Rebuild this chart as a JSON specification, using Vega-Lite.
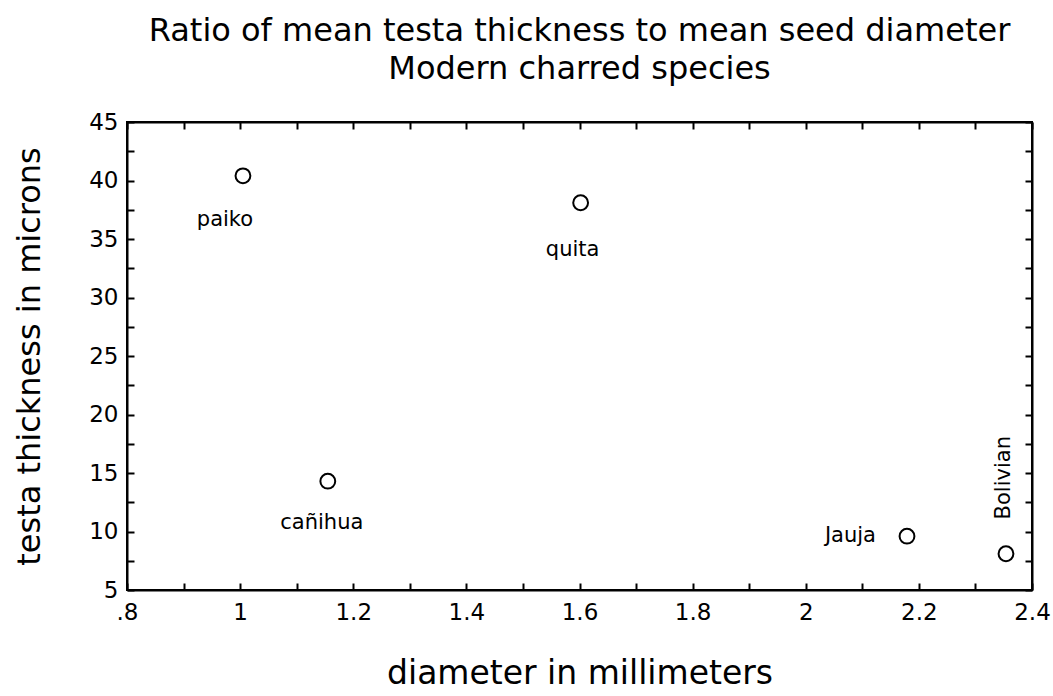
{
  "$schema": "https://vega.github.io/schema/vega-lite/v6.json",
  "width": 905,
  "height": 468,
  "autosize": {"type": "none"},
  "padding": {"left": 127, "top": 122, "right": 21, "bottom": 106},
  "background": "white",
  "config": {
    "font": "DejaVu Sans",
    "view": {"stroke": "black", "strokeWidth": 2},
    "axis": {"domainColor": "black", "domainWidth": 2, "tickColor": "black", "tickWidth": 2, "labelColor": "black", "titleColor": "black", "grid": false, "labelFont": "DejaVu Sans", "titleFont": "DejaVu Sans", "titleFontWeight": "normal"}
  },
  "title": {
    "text": ["Ratio of mean testa thickness to mean seed diameter", "Modern charred species"],
    "fontSize": 32,
    "fontWeight": "normal",
    "font": "DejaVu Sans",
    "color": "black",
    "lineHeight": 38,
    "offset": 25,
    "anchor": "middle"
  },
  "data": {
    "values": [
      {"name": "paiko", "diameter": 1.005, "testa": 40.4},
      {"name": "quita", "diameter": 1.602, "testa": 38.1},
      {"name": "cañihua", "diameter": 1.155, "testa": 14.3},
      {"name": "Jauja", "diameter": 2.179, "testa": 9.6},
      {"name": "Bolivian", "diameter": 2.354, "testa": 8.1}
    ]
  },
  "layer": [
    {
      "mark": {"type": "point", "shape": "circle", "filled": false, "stroke": "black", "strokeWidth": 2, "size": 220, "opacity": 1},
      "encoding": {
        "x": {"field": "diameter", "type": "quantitative", "scale": {"domain": [0.8, 2.4], "nice": false, "zero": false}, "axis": {"orient": "bottom", "title": "diameter in millimeters", "titleFontSize": 33, "titlePadding": 33, "values": [0.8, 0.9, 1.0, 1.1, 1.2, 1.3, 1.4, 1.5, 1.6, 1.7, 1.8, 1.9, 2.0, 2.1, 2.2, 2.3, 2.4], "labelExpr": "round(datum.value*10) % 2 != 0 ? '' : (datum.value < 1 ? '.8' : format(datum.value, '~g'))", "labelFontSize": 23, "tickSize": -7, "labelPadding": 18, "labelFlush": false, "labelOverlap": false}},
        "y": {"field": "testa", "type": "quantitative", "scale": {"domain": [5, 45], "nice": false, "zero": false}, "axis": {"orient": "left", "title": "testa thickness in microns", "titleFontSize": 32, "titlePadding": 42, "values": [5, 7.5, 10, 12.5, 15, 17.5, 20, 22.5, 25, 27.5, 30, 32.5, 35, 37.5, 40, 42.5, 45], "labelExpr": "datum.value % 5 != 0 ? '' : format(datum.value, 'd')", "labelFontSize": 23, "tickSize": -7, "labelPadding": 16, "labelFlush": false, "labelOverlap": false}}
      }
    },
    {
      "mark": {"type": "point", "opacity": 0},
      "encoding": {
        "x": {"field": "diameter", "type": "quantitative", "scale": {"domain": [0.8, 2.4], "nice": false, "zero": false}, "axis": {"orient": "top", "title": null, "labels": false, "values": [0.8, 0.9, 1.0, 1.1, 1.2, 1.3, 1.4, 1.5, 1.6, 1.7, 1.8, 1.9, 2.0, 2.1, 2.2, 2.3, 2.4], "tickSize": -7}},
        "y": {"field": "testa", "type": "quantitative", "scale": {"domain": [5, 45], "nice": false, "zero": false}, "axis": {"orient": "right", "title": null, "labels": false, "values": [5, 7.5, 10, 12.5, 15, 17.5, 20, 22.5, 25, 27.5, 30, 32.5, 35, 37.5, 40, 42.5, 45], "tickSize": -7}}
      }
    },
    {
      "mark": {"type": "text", "fontSize": 21, "font": "DejaVu Sans", "color": "black", "align": "center", "baseline": "middle", "dx": -18, "dy": 44},
      "transform": [{"filter": "datum.name == 'paiko'"}],
      "encoding": {
        "x": {"field": "diameter", "type": "quantitative", "axis": null},
        "y": {"field": "testa", "type": "quantitative", "axis": null},
        "text": {"field": "name"}
      }
    },
    {
      "mark": {"type": "text", "fontSize": 21, "font": "DejaVu Sans", "color": "black", "align": "center", "baseline": "middle", "dx": -8, "dy": 47},
      "transform": [{"filter": "datum.name == 'quita'"}],
      "encoding": {
        "x": {"field": "diameter", "type": "quantitative", "axis": null},
        "y": {"field": "testa", "type": "quantitative", "axis": null},
        "text": {"field": "name"}
      }
    },
    {
      "mark": {"type": "text", "fontSize": 21, "font": "DejaVu Sans", "color": "black", "align": "center", "baseline": "middle", "dx": -6, "dy": 42},
      "transform": [{"filter": "datum.name == 'cañihua'"}],
      "encoding": {
        "x": {"field": "diameter", "type": "quantitative", "axis": null},
        "y": {"field": "testa", "type": "quantitative", "axis": null},
        "text": {"field": "name"}
      }
    },
    {
      "mark": {"type": "text", "fontSize": 21, "font": "DejaVu Sans", "color": "black", "align": "right", "baseline": "middle", "dx": -31, "dy": 0},
      "transform": [{"filter": "datum.name == 'Jauja'"}],
      "encoding": {
        "x": {"field": "diameter", "type": "quantitative", "axis": null},
        "y": {"field": "testa", "type": "quantitative", "axis": null},
        "text": {"field": "name"}
      }
    },
    {
      "mark": {"type": "text", "fontSize": 21, "font": "DejaVu Sans", "color": "black", "align": "center", "baseline": "middle", "angle": 270, "dx": 76, "dy": -2},
      "transform": [{"filter": "datum.name == 'Bolivian'"}],
      "encoding": {
        "x": {"field": "diameter", "type": "quantitative", "axis": null},
        "y": {"field": "testa", "type": "quantitative", "axis": null},
        "text": {"field": "name"}
      }
    }
  ],
  "resolve": {"axis": {"x": "independent", "y": "independent"}}
}
